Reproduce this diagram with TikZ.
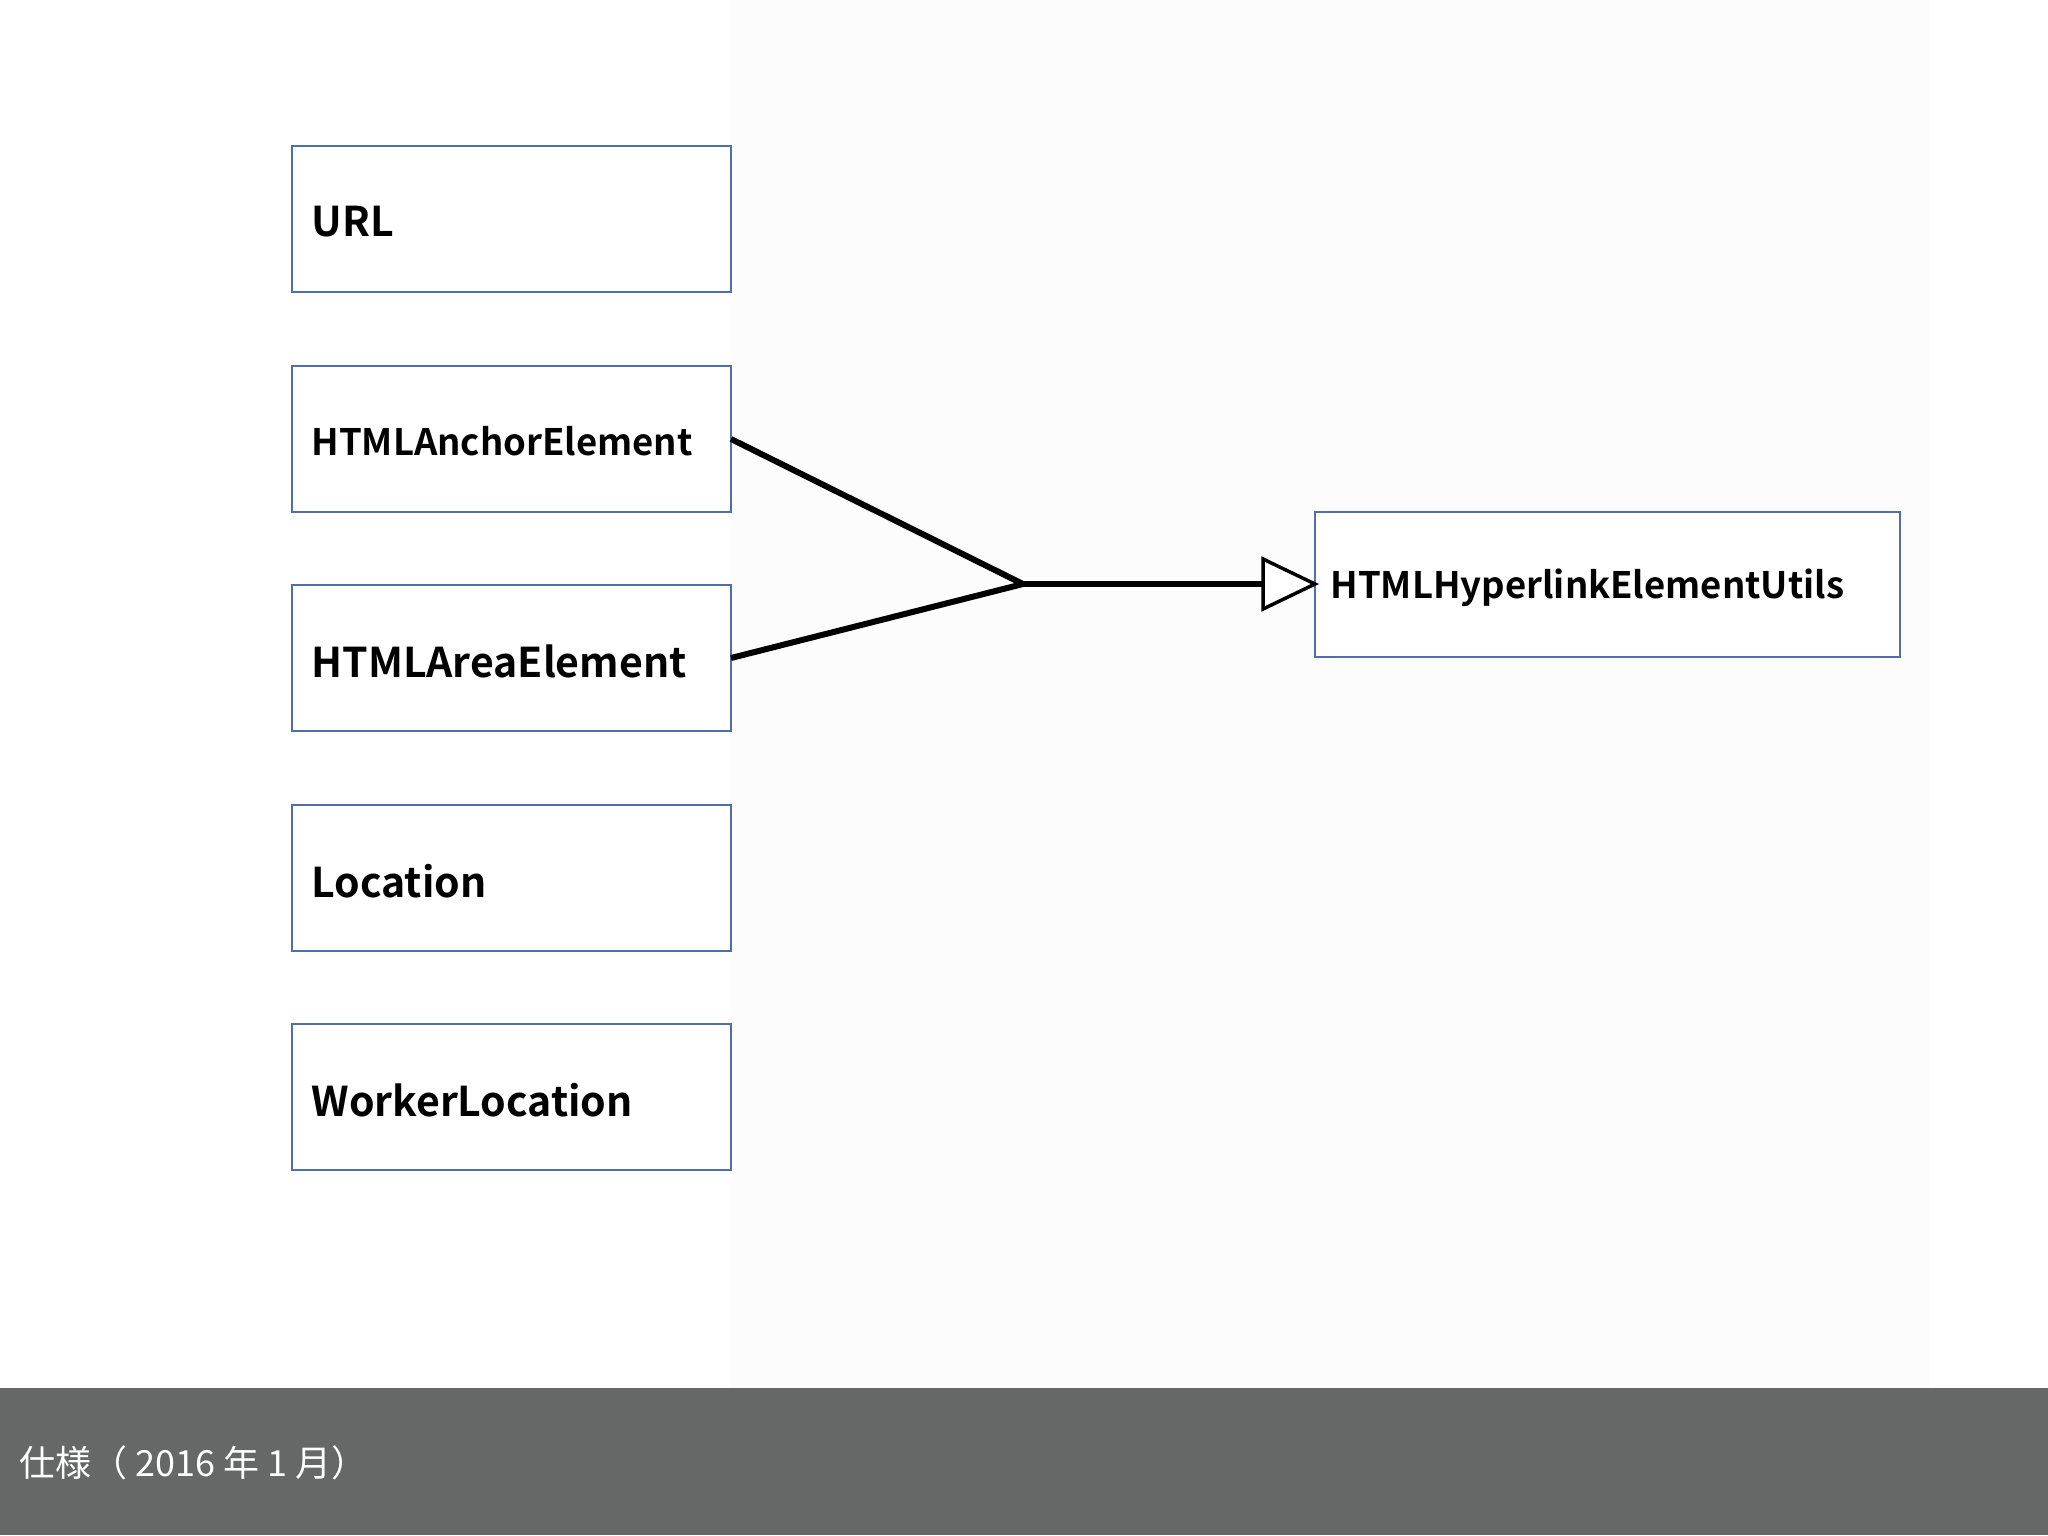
\documentclass[tikz,border=0pt]{standalone}
\usepackage{fontspec}
\setmainfont{Noto Sans CJK JP}[BoldFont={Noto Sans CJK JP Bold}]
\definecolor{bord}{RGB}{80,110,170}
\definecolor{footgray}{RGB}{102,103,103}
\definecolor{bgpale}{RGB}{252,252,253}
\begin{document}
\begin{tikzpicture}[x=1pt,y=-1pt,
  boxline/.style={draw=bord,line width=1.3pt,fill=white},
  lbl/.style={anchor=west},
  conn/.style={line width=6pt}]
\useasboundingbox (0,0) rectangle (2048,1535);
\fill[white] (0,0) rectangle (2048,1535);
\fill[bgpale] (731,0) rectangle (1930,1388);
\foreach \n/\y in {u/146,a/366,r/585,l/805,w/1024}{
  \draw[boxline] (292,\y) rectangle (731,\y+146);
  \coordinate (\n) at (731,\y+73);
}
\node[lbl,font=\bfseries\fontsize{41}{48}\selectfont] (tu) at (308,222) {URL};
\node[lbl,font=\bfseries\fontsize{36.5}{44}\selectfont] (ta) at (308,441) {HTMLAnchorElement};
\node[lbl,font=\bfseries\fontsize{41}{48}\selectfont] (tr) at (308,661) {HTMLAreaElement};
\node[lbl,font=\bfseries\fontsize{41}{48}\selectfont] (tl) at (308,881) {Location};
\node[lbl,font=\bfseries\fontsize{41}{48}\selectfont] (tw) at (308,1100) {WorkerLocation};
\draw[boxline] (1315,512) rectangle (1900,657);
\node[lbl,font=\bfseries\fontsize{36.5}{44}\selectfont] (th) at (1327,588) {HTMLHyperlinkElementUtils};
\coordinate (j) at (1023,584);
\coordinate (t) at (1263,584);
\coordinate (h) at (1315,584);
\draw[conn] (a) -- (j) -- (r);
\draw[conn] (j) -- (t);
\draw[line width=3.5pt,fill=white,line join=miter] (1263,559) -- (h) -- (1263,609) -- cycle;
\fill[footgray] (0,1388) rectangle (2048,1535);
\node[anchor=west,text=white,font=\fontsize{36}{44}\selectfont] (ft) at (16,1463) {仕様（ 2016 年 1 月）};
\end{tikzpicture}
\end{document}
